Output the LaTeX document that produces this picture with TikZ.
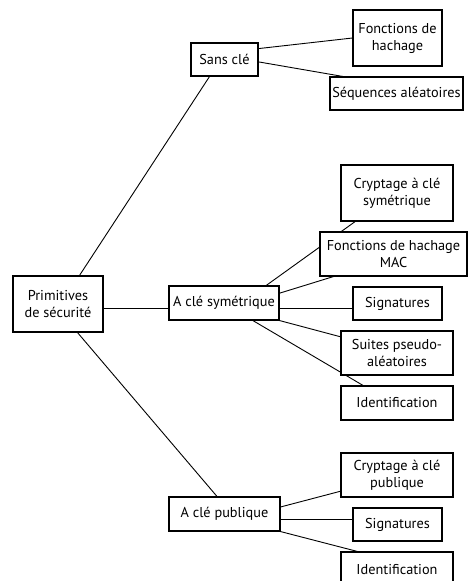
\documentclass[tikz,border=0pt]{standalone}
\usepackage{fontspec}
\setmainfont{PT Sans}
\usetikzlibrary{calc}
\pgfdeclarelayer{bg}
\pgfsetlayers{bg,main}
\begin{document}
\begin{tikzpicture}[x=1pt,y=-1pt,
  box/.style={draw=black, fill=white, line width=1.1pt, align=center, inner sep=0pt,
    font=\fontsize{14.3}{17}\selectfont},
  link/.style={draw=black, line width=0.9pt}]
\useasboundingbox (0,0) rectangle (468,581);
\clip (0,0) rectangle (468,581);
% nodes
\node[box, minimum width=90pt, minimum height=56pt] (prim) at (58,304) {Primitives\\de sécurité};
\node[box, minimum width=67pt, minimum height=33pt] (sans) at (224.5,59.5) {Sans clé};
\node[box, minimum width=89pt, minimum height=56pt] (fh) at (397.5,38) {Fonctions de\\hachage};
\node[box, minimum width=133pt, minimum height=33pt] (seq) at (396.5,93.5) {Séquences aléatoires};
\node[box, minimum width=112pt, minimum height=56pt] (csym) at (397,193) {Cryptage à clé\\symétrique};
\node[box, minimum width=147pt, minimum height=44pt] (mac) at (393.5,254) {Fonctions de hachage\\MAC};
\node[box, minimum width=110pt, minimum height=34pt] (sym) at (224,303) {A clé symétrique};
\node[box, minimum width=89pt, minimum height=33pt] (sig1) at (397.5,303.5) {Signatures};
\node[box, minimum width=112pt, minimum height=44pt] (suites) at (397,353) {Suites pseudo-\\aléatoires};
\node[box, minimum width=112pt, minimum height=34pt] (id1) at (397,403) {Identification};
\node[box, minimum width=112pt, minimum height=44pt] (cpub) at (397,475) {Cryptage à clé\\publique};
\node[box, minimum width=111pt, minimum height=34pt] (pub) at (224.5,514) {A clé publique};
\node[box, minimum width=89pt, minimum height=33pt] (sig2) at (397.5,524.5) {Signatures};
\node[box, minimum width=112pt, minimum height=36pt] (id2) at (397,570) {Identification};
% helper coordinates for horizontal links
\coordinate (p1) at ($(prim.north east)!0.58!(prim.south east)$);
\coordinate (s1) at ($(sym.north east)!0.66!(sym.south east)$);
\coordinate (s2) at ($(pub.north east)!0.65!(pub.south east)$);
\begin{pgfonlayer}{bg}
\draw[link] ([xshift=21.5pt]prim.north) -- ([xshift=-15pt]sans.south);
\draw[link] (p1) -- (p1 -| sym.west);
\draw[link] ([xshift=19.5pt]prim.south) -- ([xshift=-7.5pt]pub.north);
\draw[link] ($(sans.north east)!0.18!(sans.south east)$) -- (fh.west);
\draw[link] ($(sans.north east)!0.57!(sans.south east)$) -- ($(seq.north west)!0.1!(seq.north east)$);
\draw[link] ($(sym.north west)!0.88!(sym.north east)$) -- ($(csym.south west)!0.13!(csym.south east)$);
\draw[link] ($(sym.north east)!0.22!(sym.south east)$) -- ($(mac.south west)!0.095!(mac.south east)$);
\draw[link] (s1) -- (s1 -| sig1.west);
\draw[link] (sym.south east) -- ($(suites.north west)!0.14!(suites.south west)$);
\draw[link] ($(sym.south west)!0.76!(sym.south east)$) -- ($(id1.north west)!0.2!(id1.north east)$);
\draw[link] ($(pub.north east)!0.3!(pub.south east)$) -- ($(cpub.north west)!0.86!(cpub.south west)$);
\draw[link] (s2) -- (s2 -| sig2.west);
\draw[link] (pub.south east) -- ($(id2.north west)!0.15!(id2.north east)$);
\end{pgfonlayer}
\end{tikzpicture}
\end{document}
